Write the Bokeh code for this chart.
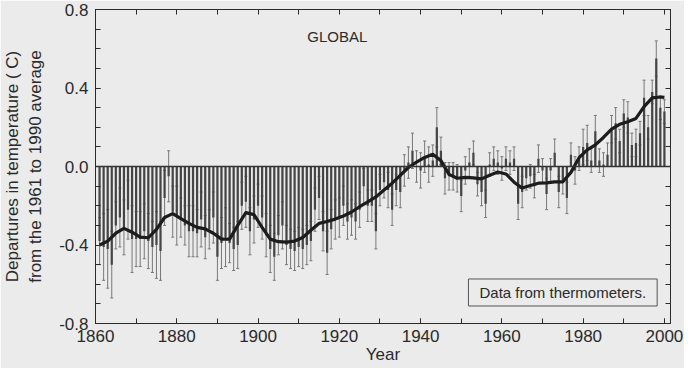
from bokeh.plotting import figure
from bokeh.models import (ColumnDataSource, Whisker, TeeHead, Span, Label, LinearAxis,
                          SingleIntervalTicker, PrintfTickFormatter, Range1d)
from bokeh.embed import file_html
from bokeh.resources import INLINE

# ---------------- data ----------------
years = list(range(1861, 2001))

anomaly_1861_1900 = [-0.38, -0.41, -0.42, -0.50, -0.30, -0.26, -0.31, -0.22, -0.37, -0.37,
                     -0.37, -0.33, -0.38, -0.41, -0.40, -0.43, -0.16, -0.05, -0.23, -0.25,
                     -0.26, -0.30, -0.33, -0.33, -0.34, -0.27, -0.36, -0.32, -0.26, -0.46,
                     -0.39, -0.36, -0.39, -0.42, -0.40, -0.20, -0.18, -0.33, -0.27, -0.20]
anomaly_1901_1940 = [-0.26, -0.35, -0.42, -0.46, -0.35, -0.30, -0.40, -0.42, -0.43, -0.41,
                     -0.42, -0.40, -0.38, -0.22, -0.16, -0.33, -0.44, -0.32, -0.27, -0.26,
                     -0.20, -0.28, -0.26, -0.28, -0.22, -0.10, -0.20, -0.20, -0.33, -0.12,
                     -0.08, -0.12, -0.22, -0.12, -0.13, -0.02, 0.02, 0.08, 0.00, -0.02]
anomaly_1941_1980 = [0.05, 0.01, 0.03, 0.20, 0.08, -0.06, -0.05, -0.05, -0.06, -0.15,
                     -0.02, 0.02, 0.07, -0.09, -0.13, -0.19, 0.01, 0.04, 0.02, -0.01,
                     0.04, 0.02, 0.04, -0.19, -0.13, -0.06, -0.05, -0.10, 0.04, -0.02,
                     -0.14, -0.02, 0.07, -0.13, -0.07, -0.16, 0.06, -0.02, 0.04, 0.10]
anomaly_1981_2000 = [0.12, 0.03, 0.18, 0.03, 0.01, 0.06, 0.19, 0.22, 0.13, 0.27,
                     0.25, 0.11, 0.12, 0.17, 0.35, 0.20, 0.38, 0.55, 0.30, 0.28]
anomaly = anomaly_1861_1900 + anomaly_1901_1940 + anomaly_1941_1980 + anomaly_1981_2000

uncert_1861_1900 = [0.12, 0.17, 0.20, 0.17, 0.12, 0.15, 0.14, 0.15, 0.17, 0.14,
                    0.14, 0.14, 0.14, 0.13, 0.17, 0.15, 0.14, 0.13, 0.13, 0.15,
                    0.10, 0.10, 0.13, 0.13, 0.12, 0.14, 0.11, 0.10, 0.13, 0.12,
                    0.13, 0.15, 0.10, 0.11, 0.12, 0.12, 0.13, 0.12, 0.12, 0.11]
uncert_1901_1940 = [0.11, 0.11, 0.12, 0.12, 0.10, 0.12, 0.10, 0.10, 0.10, 0.10,
                    0.10, 0.10, 0.10, 0.11, 0.11, 0.10, 0.11, 0.10, 0.10, 0.10,
                    0.10, 0.09, 0.09, 0.09, 0.09, 0.09, 0.08, 0.08, 0.09, 0.08,
                    0.08, 0.09, 0.08, 0.08, 0.08, 0.08, 0.08, 0.09, 0.08, 0.09]
uncert_1941_1980 = [0.08, 0.09, 0.08, 0.10, 0.07, 0.08, 0.07, 0.07, 0.07, 0.08,
                    0.07, 0.07, 0.06, 0.06, 0.07, 0.07, 0.06, 0.06, 0.06, 0.06,
                    0.06, 0.06, 0.06, 0.08, 0.08, 0.06, 0.06, 0.06, 0.07, 0.06,
                    0.08, 0.06, 0.07, 0.08, 0.07, 0.08, 0.06, 0.07, 0.06, 0.09]
uncert_1981_2000 = [0.09, 0.06, 0.08, 0.06, 0.06, 0.06, 0.07, 0.08, 0.06, 0.07,
                    0.08, 0.06, 0.07, 0.06, 0.09, 0.06, 0.06, 0.09, 0.06, 0.06]
uncert = uncert_1861_1900 + uncert_1901_1940 + uncert_1941_1980 + uncert_1981_2000

# smoothed curve, every second year
smooth_years = [1861, 1863, 1865, 1867, 1869, 1871, 1873, 1875, 1877, 1879,
                1881, 1883, 1885, 1887, 1889, 1891, 1893, 1895, 1897, 1899,
                1901, 1903, 1905, 1907, 1909, 1911, 1913, 1915, 1917, 1919,
                1921, 1923, 1925, 1927, 1929, 1931, 1933, 1935, 1937, 1939,
                1941, 1943, 1945, 1947, 1949, 1951, 1953, 1955, 1957, 1959,
                1961, 1963, 1965, 1967, 1969, 1971, 1973, 1975, 1977, 1979,
                1981, 1983, 1985, 1987, 1989, 1991, 1993, 1995, 1997, 1999, 2000]
smooth_vals = [-0.400, -0.380, -0.340, -0.315, -0.335, -0.360, -0.363, -0.320, -0.260, -0.240,
               -0.265, -0.290, -0.310, -0.318, -0.340, -0.370, -0.370, -0.300, -0.235, -0.245,
               -0.310, -0.370, -0.383, -0.385, -0.380, -0.362, -0.325, -0.290, -0.280, -0.268,
               -0.252, -0.232, -0.205, -0.180, -0.155, -0.120, -0.085, -0.045, -0.005, 0.022,
               0.046, 0.062, 0.030, -0.040, -0.060, -0.055, -0.058, -0.063, -0.045, -0.028,
               -0.038, -0.080, -0.110, -0.097, -0.085, -0.083, -0.078, -0.078, -0.030, 0.045,
               0.085, 0.110, 0.148, 0.190, 0.215, 0.228, 0.245, 0.305, 0.350, 0.354, 0.352]

title_text = "GLOBAL"
note_text = "Data from thermometers."
x_label = "Year"
y_label = "Departures in temperature ( C)\nfrom the 1961 to 1990 average"

# ---------------- styling ----------------
BG = "#ebebeb"
INK = "#2a2a2a"
FONT = "Liberation Sans"

p = figure(width=684, height=368, output_backend="svg", toolbar_location=None,
           x_range=Range1d(1860, 2001.5), y_range=Range1d(-0.8, 0.8),
           min_border_left=88, min_border_right=14, min_border_top=9, min_border_bottom=45,
           background_fill_color=BG, border_fill_color=BG,
           outline_line_color=INK, outline_line_width=1)
p.grid.visible = False

src = ColumnDataSource(data=dict(
    year=years, val=anomaly,
    lo=[v - e for v, e in zip(anomaly, uncert)],
    hi=[v + e for v, e in zip(anomaly, uncert)],
))

p.vbar(x="year", top="val", bottom=0, width=0.55, source=src,
       fill_color="#454545", line_color=None)

whisk = Whisker(base="year", lower="lo", upper="hi", source=src,
                line_color="#787878", line_width=1,
                lower_head=TeeHead(size=3, line_color="#787878", line_width=1),
                upper_head=TeeHead(size=3, line_color="#787878", line_width=1))
p.add_layout(whisk)

p.add_layout(Span(location=0, dimension="width", line_color="#333333", line_width=1.5))

p.line(smooth_years, smooth_vals, line_width=3.2, line_color="#1c1c1c", line_join="round")

# axes
xax = p.xaxis[0]
xax.ticker = SingleIntervalTicker(interval=20, num_minor_ticks=2)
yax = p.yaxis[0]
yax.ticker = SingleIntervalTicker(interval=0.4, num_minor_ticks=4)
yax.formatter = PrintfTickFormatter(format="%.1f")
for ax in (xax, yax):
    ax.major_tick_in = 5
    ax.major_tick_out = 0
    ax.minor_tick_in = 5
    ax.minor_tick_out = 0
    ax.axis_line_color = INK
    ax.major_tick_line_color = INK
    ax.minor_tick_line_color = INK
    ax.major_label_text_font = FONT
    ax.major_label_text_font_size = "17px"
    ax.major_label_text_color = INK
    ax.axis_label_text_font = FONT
    ax.axis_label_text_font_style = "normal"
    ax.axis_label_text_font_size = "17px"
    ax.axis_label_text_color = INK
xax.axis_label = x_label
xax.major_label_standoff = 6
xax.axis_label_standoff = 0
yax.axis_label = y_label
yax.major_label_standoff = 7
yax.axis_label_standoff = 11

# frame ticks on the top and right sides (no labels)
top_ax = LinearAxis(ticker=SingleIntervalTicker(interval=10, num_minor_ticks=0),
                    major_tick_in=5, major_tick_out=0, major_label_text_color=None,
                    major_label_text_font_size="1px", major_label_standoff=0,
                    axis_line_color=INK, major_tick_line_color=INK)
p.add_layout(top_ax, "above")
right_ax = LinearAxis(ticker=SingleIntervalTicker(interval=0.1, num_minor_ticks=0),
                      major_tick_in=5, major_tick_out=0, major_label_text_color=None,
                      major_label_text_font_size="1px", major_label_standoff=0,
                      axis_line_color=INK, major_tick_line_color=INK)
p.add_layout(right_ax, "right")

p.add_layout(Label(x=1919.5, y=0.66, text=title_text, text_align="center",
                   text_baseline="middle", text_font=FONT, text_font_size="15px",
                   text_color=INK))
p.add_layout(Label(x=1975.0, y=-0.642, text=note_text, text_align="center",
                   text_baseline="middle", text_font=FONT, text_font_size="15px",
                   text_color=INK, border_line_color="#555555", border_line_width=1,
                   background_fill_color=BG,
                   padding=dict(left=11, right=11, top=5, bottom=5)))

open("out.html", "w").write(file_html(p, INLINE))
